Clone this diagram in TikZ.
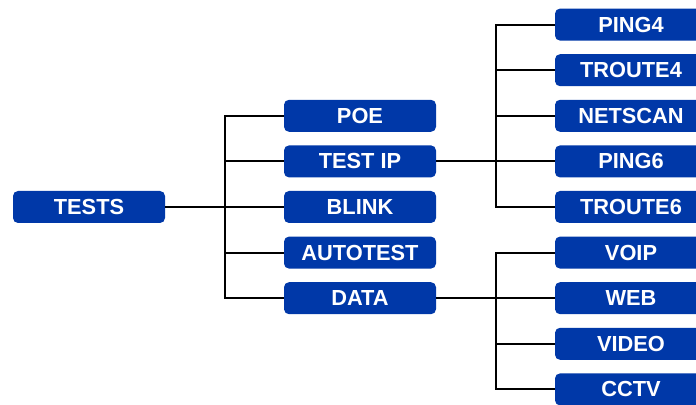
\documentclass[tikz,border=0pt]{standalone}
\usepackage{fontspec}
\setmainfont{Liberation Sans}
\usetikzlibrary{positioning,calc}
\definecolor{menublue}{RGB}{0,56,168}

\begin{document}
\begin{tikzpicture}[x=0.5pt, y=-0.5pt, node distance=6.8pt and 59.5pt,
        menu/.style={fill=menublue, rounded corners=2.5pt, minimum width=76pt, minimum height=16pt,
            inner sep=0pt, outer sep=0pt, text=white, font=\bfseries\fontsize{10.9}{12}\selectfont},
        link/.style={line width=1pt}]
        \useasboundingbox (0,0) rectangle (696,405);
        \clip (0,0) rectangle (696,405);

        \node [menu] (tests) at (89,207) {TESTS};

        \node [menu, right=of tests] (blink) {BLINK};
        \node [menu, above=of blink] (testip) {TEST IP};
        \node [menu, above=of testip] (poe) {POE};
        \node [menu, below=of blink] (autotest) {AUTOTEST};
        \node [menu, below=of autotest] (data) {DATA};

        \node [menu, right=of blink] (troute6) {TROUTE6};
        \node [menu, above=of troute6] (ping6) {PING6};
        \node [menu, above=of ping6] (netscan) {NETSCAN};
        \node [menu, above=of netscan] (troute4) {TROUTE4};
        \node [menu, above=of troute4] (ping4) {PING4};
        \node [menu, below=of troute6] (voip) {VOIP};
        \node [menu, below=of voip] (web) {WEB};
        \node [menu, below=of web] (video) {VIDEO};
        \node [menu, below=of video] (cctv) {CCTV};

        % bus points halfway between the columns
        \coordinate (bus1) at ($(tests.east)!0.5!(blink.west)$);
        \coordinate (bus2) at ($(testip.east)!0.5!(ping6.west)$);
        \coordinate (bus3) at ($(data.east)!0.5!(web.west)$);

        \draw[link] (tests.east) -- (blink.west);
        \draw[link] (bus1) |- (poe.west);
        \draw[link] (bus1) |- (testip.west);
        \draw[link] (bus1) |- (autotest.west);
        \draw[link] (bus1) |- (data.west);

        \draw[link] (testip.east) -- (ping6.west);
        \draw[link] (bus2) |- (ping4.west);
        \draw[link] (bus2) |- (troute4.west);
        \draw[link] (bus2) |- (netscan.west);
        \draw[link] (bus2) |- (troute6.west);

        \draw[link] (data.east) -- (web.west);
        \draw[link] (bus3) |- (voip.west);
        \draw[link] (bus3) |- (video.west);
        \draw[link] (bus3) |- (cctv.west);
    \end{tikzpicture}
\end{document}
